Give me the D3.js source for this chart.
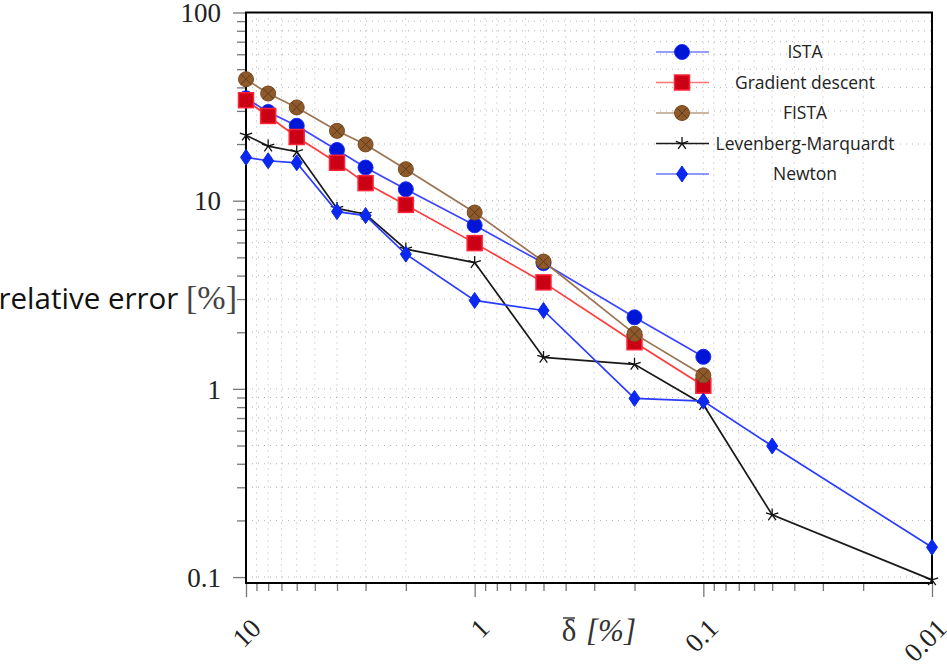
<!DOCTYPE html>
<html lang="en">
<head>
<meta charset="UTF-8">
<script src="https://d3js.org/d3.v7.min.js"></script>
<style>
  html, body { margin: 0; padding: 0; background: #fff; overflow: hidden; }
  svg { display: block; }
  .grid line { stroke: #b4b4b4; stroke-width: 1; stroke-dasharray: 1 5; }
  .tick line { stroke: #777; stroke-width: 1.3; }
  .domain { display: none; }
</style>
</head>
<body>
<svg id="chart" width="947" height="665"></svg>
<script>
// relative step delta [%]
const delta = [10, 8, 6, 4, 3, 2, 1, 0.5, 0.2, 0.1, 0.05, 0.01];

// relative error [%] per method
const ista     = [35, 29.6, 25.0, 18.6, 15.0, 11.5, 7.4, 4.66, 2.40, 1.48];
const gradient = [34.2, 28.2, 21.8, 15.9, 12.4, 9.5, 5.95, 3.68, 1.77, 1.04];
const fista    = [44.2, 37.1, 31.3, 23.5, 19.9, 14.7, 8.65, 4.75, 1.96, 1.18];
const levmar   = [22.3, 19.5, 18.2, 9.1, 8.47, 5.53, 4.69, 1.47, 1.35, 0.826, 0.214, 0.0966];
const newton   = [17.0, 16.3, 15.9, 8.75, 8.33, 5.2, 2.95, 2.61, 0.89, 0.861, 0.497, 0.144];

const xMajor = [10, 1, 0.1, 0.01];
const yMajor = [100, 10, 1, 0.1];
const xTickLabels = ["10", "1", "0.1", "0.01"];
const yTickLabels = ["100", "10", "1", "0.1"];

const series = [
  {name: "ISTA", values: ista, line: "#3a46ff", fill: "#0016d6", stroke: "#1a2cff", mark: "circle"},
  {name: "Gradient descent", values: gradient, line: "#ff3a3a", fill: "#cc0014", stroke: "#ff2438", mark: "square"},
  {name: "FISTA", values: fista, line: "#9c7350", fill: "#8e5a2c", stroke: "#7a4a20", mark: "otimes"},
  {name: "Levenberg-Marquardt", values: levmar, line: "#1a1a1a", fill: "none", stroke: "#111", mark: "star"},
  {name: "Newton", values: newton, line: "#2a3cff", fill: "#0a28f0", stroke: "#0a28f0", mark: "diamond"}
];

const L = 246, R = 932, T = 12.5, B = 583;
const x = d3.scaleLog().domain([10, 0.01]).range([L, R]);
const y = d3.scaleLog().domain([0.093, 100]).range([B, T]);

const svg = d3.select("#chart");

// minor tick values per decade
function minors(majors) {
  const out = [];
  majors.slice(0, -1).forEach((m, i) => {
    const lo = Math.min(m, majors[i + 1]);
    for (let k = 2; k <= 9; k++) out.push(+(lo * k).toPrecision(3));
  });
  return out;
}
const xMinor = minors(xMajor);
const yMinor = minors(yMajor);

// dotted grid
const grid = svg.append("g").attr("class", "grid");
grid.selectAll(".gx").data(xMajor.concat(xMinor).filter(v => v < 10 && v > 0.01)).join("line")
  .attr("x1", d => x(d)).attr("x2", d => x(d)).attr("y1", T).attr("y2", B);
grid.selectAll(".gy").data(yMajor.concat(yMinor).filter(v => v < 100 && v > 0.093)).join("line")
  .attr("y1", d => y(d)).attr("y2", d => y(d)).attr("x1", L).attr("x2", R);

// x axis ticks
svg.append("g").attr("transform", `translate(0,${B})`)
  .call(d3.axisBottom(x).tickValues(xMinor).tickSize(8).tickFormat(""));
const xa = svg.append("g").attr("transform", `translate(0,${B})`)
  .call(d3.axisBottom(x).tickValues(xMajor).tickSize(14).tickFormat((d, i) => xTickLabels[i]));
xa.selectAll("text")
  .attr("text-anchor", "end")
  .attr("dy", null)
  .attr("y", 0)
  .attr("transform", "translate(16,47) rotate(-45)")
  .style("font-family", "'Liberation Serif', serif")
  .style("font-size", "27px")
  .style("fill", "#222");

// y axis ticks
svg.append("g").attr("transform", `translate(${L},0)`)
  .call(d3.axisLeft(y).tickValues(yMinor).tickSize(9).tickFormat(""));
const ya = svg.append("g").attr("transform", `translate(${L},0)`)
  .call(d3.axisLeft(y).tickValues(yMajor).tickSize(13).tickPadding(12).tickFormat((d, i) => yTickLabels[i]));
ya.selectAll("text").attr("dy", "0.34em")
  .style("font-family", "'Liberation Serif', serif")
  .style("font-size", "27px")
  .style("fill", "#222");

// frame
svg.append("rect").attr("x", L).attr("y", T).attr("width", R - L).attr("height", B - T)
  .attr("fill", "none").attr("stroke", "#000").attr("stroke-width", 2);

// markers
function drawMark(g, s) {
  if (s.mark === "circle") {
    g.append("circle").attr("r", 7.5).attr("fill", s.fill).attr("stroke", s.stroke).attr("stroke-width", 1);
  } else if (s.mark === "square") {
    g.append("rect").attr("x", -7.5).attr("y", -7.5).attr("width", 15).attr("height", 15)
      .attr("fill", s.fill).attr("stroke", s.stroke).attr("stroke-width", 1.5);
  } else if (s.mark === "otimes") {
    g.append("circle").attr("r", 7.5).attr("fill", s.fill).attr("stroke", s.stroke).attr("stroke-width", 1);
    const a = 7.5 * Math.SQRT1_2;
    g.append("path").attr("d", `M${-a},${-a}L${a},${a}M${-a},${a}L${a},${-a}`)
      .attr("stroke", "#5c3a18").attr("stroke-width", 1);
  } else if (s.mark === "star") {
    let d = "";
    for (let k = 0; k < 5; k++) {
      const ang = -Math.PI / 2 + k * 2 * Math.PI / 5;
      d += `M0,0L${(6.5 * Math.cos(ang)).toFixed(2)},${(6.5 * Math.sin(ang)).toFixed(2)}`;
    }
    g.append("path").attr("d", d).attr("stroke", s.stroke).attr("stroke-width", 1.3).attr("fill", "none");
  } else if (s.mark === "diamond") {
    g.append("path").attr("d", "M0,-8L5.5,0L0,8L-5.5,0Z").attr("fill", s.fill).attr("stroke", s.stroke);
  }
}

const line = d3.line().x(d => x(d[0])).y(d => y(d[1]));

series.forEach(s => {
  const pts = s.values.map((v, i) => [delta[i], v]);
  const g = svg.append("g");
  g.append("path").attr("d", line(pts)).attr("fill", "none")
    .attr("stroke", s.line).attr("stroke-width", 1.7);
  pts.forEach(p => {
    drawMark(g.append("g").attr("transform", `translate(${x(p[0])},${y(p[1])})`), s);
  });
});

// legend
const leg = svg.append("g");
series.forEach((s, i) => {
  const yy = 52 + i * 30.5;
  const g = leg.append("g").attr("transform", `translate(682,${yy})`);
  g.append("line").attr("x1", -26).attr("x2", 27).attr("stroke", s.line).attr("stroke-width", 1.7)
    .attr("stroke-opacity", s.mark === "star" ? 1 : 0.7);
  drawMark(g, s);
  leg.append("text").attr("x", 805).attr("y", yy).attr("dy", "0.35em")
    .attr("text-anchor", "middle")
    .attr("font-family", "Open Sans, sans-serif").attr("font-size", 17.5).attr("fill", "#222")
    .text(s.name);
});

// axis labels
const yl = svg.append("text").attr("x", 237).attr("y", 309).attr("text-anchor", "end");
yl.append("tspan").attr("font-family", "Open Sans, sans-serif").attr("font-size", 29.5).attr("fill", "#111")
  .text("relative error ");
yl.append("tspan").attr("font-family", "Liberation Serif, serif").attr("font-size", 34).attr("fill", "#444")
  .text("[%]");

const xl = svg.append("g").attr("font-family", "Liberation Serif, serif").attr("fill", "#333");
xl.append("text").attr("x", 569).attr("y", 641).attr("text-anchor", "middle")
  .attr("font-size", 31).text("\u03B4");
xl.append("line").attr("x1", 563).attr("x2", 575).attr("y1", 618).attr("y2", 618)
  .attr("stroke", "#333").attr("stroke-width", 1.4);
xl.append("text").attr("x", 586).attr("y", 641).attr("font-style", "italic")
  .attr("font-size", 31).text("[%]");
</script>
</body>
</html>
